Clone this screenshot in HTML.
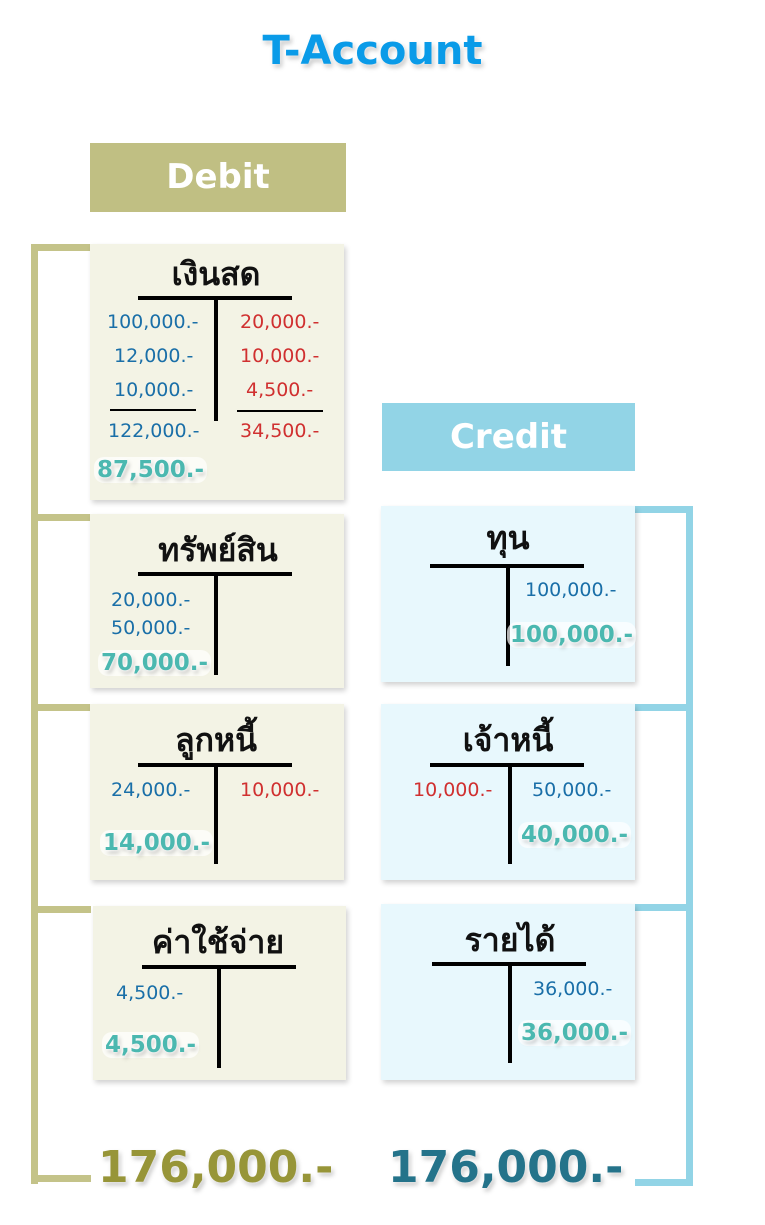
<!DOCTYPE html><html><head><meta charset="utf-8"><style>
body{margin:0;width:765px;height:1225px;background:#fff;position:relative;font-family:"DejaVu Sans","Liberation Sans",sans-serif;overflow:hidden}
div{position:absolute}
.l{background:#c4c389}.r{background:#92d4e6}
.c{background:#f3f3e5;box-shadow:2px 3px 5px rgba(0,0,0,.18)}
.cb{background:#e8f8fd;box-shadow:2px 3px 5px rgba(0,0,0,.18)}
.h{background:#000;height:4px}.v{background:#000;width:4px}
.t{font-size:32px;font-weight:bold;color:#111;text-align:center;width:200px;line-height:40px}
.b{color:#1a6fa8;font-size:19px;margin-top:-3px}.rd{color:#d03030;font-size:19px;margin-top:-3px}
.g{color:#4bb8b0;font-size:23px;font-weight:bold;text-shadow:0 0 3px #fff,0 0 4px #fff,2px 3px 4px rgba(0,0,0,.25);background:rgba(255,255,255,.7);border-radius:10px;padding:0 3px}
</style></head><body>
<div style="left:0;width:745px;top:28px;text-align:center;font-size:40px;font-weight:bold;color:#0a9be8;text-shadow:0 0 4px #fff,2px 3px 5px rgba(0,0,0,.25)">T-Account</div>
<div style="left:90px;top:143px;width:256px;height:69px;background:#c0bf83;color:#fff;font-size:34px;font-weight:bold;text-align:center;line-height:69px">Debit</div>
<div style="left:382px;top:403px;width:253px;height:68px;background:#92d4e6;color:#fff;font-size:34px;font-weight:bold;text-align:center;line-height:68px">Credit</div>
<div class="l" style="left:31px;top:244px;width:7px;height:940px"></div>
<div class="l" style="left:31px;top:244px;width:60px;height:7px"></div>
<div class="l" style="left:31px;top:514px;width:60px;height:7px"></div>
<div class="l" style="left:31px;top:704px;width:60px;height:7px"></div>
<div class="l" style="left:31px;top:906px;width:60px;height:7px"></div>
<div class="l" style="left:31px;top:1175px;width:60px;height:7px"></div>
<div class="r" style="left:686px;top:506px;width:7px;height:680px"></div>
<div class="r" style="left:635px;top:506px;width:58px;height:7px"></div>
<div class="r" style="left:635px;top:704px;width:58px;height:7px"></div>
<div class="r" style="left:635px;top:904px;width:58px;height:7px"></div>
<div class="r" style="left:635px;top:1179px;width:58px;height:7px"></div>
<div class="c" style="left:90px;top:244px;width:254px;height:256px"></div>
<div class="t" style="left:116px;top:254px">เงินสด</div>
<div class="h" style="left:138px;top:296px;width:154px"></div>
<div class="v" style="left:214px;top:296px;height:125px"></div>
<div class="b" style="left:107px;top:314px">100,000.-</div>
<div class="b" style="left:114px;top:348px">12,000.-</div>
<div class="b" style="left:114px;top:382px">10,000.-</div>
<div class="h" style="left:110px;top:409px;width:86px;height:2px"></div>
<div class="b" style="left:108px;top:423px">122,000.-</div>
<div class="rd" style="left:240px;top:314px">20,000.-</div>
<div class="rd" style="left:240px;top:348px">10,000.-</div>
<div class="rd" style="left:246px;top:382px">4,500.-</div>
<div class="h" style="left:237px;top:410px;width:86px;height:2px"></div>
<div class="rd" style="left:240px;top:423px">34,500.-</div>
<div class="g" style="left:94px;top:457px">87,500.-</div>
<div class="c" style="left:90px;top:514px;width:254px;height:174px"></div>
<div class="t" style="left:118px;top:530px">ทรัพย์สิน</div>
<div class="h" style="left:138px;top:572px;width:154px"></div>
<div class="v" style="left:214px;top:572px;height:103px"></div>
<div class="b" style="left:111px;top:592px">20,000.-</div>
<div class="b" style="left:111px;top:620px">50,000.-</div>
<div class="g" style="left:98px;top:650px">70,000.-</div>
<div class="c" style="left:90px;top:704px;width:254px;height:176px"></div>
<div class="t" style="left:116px;top:720px">ลูกหนี้</div>
<div class="h" style="left:138px;top:763px;width:154px"></div>
<div class="v" style="left:214px;top:763px;height:101px"></div>
<div class="b" style="left:111px;top:782px">24,000.-</div>
<div class="rd" style="left:240px;top:782px">10,000.-</div>
<div class="g" style="left:100px;top:830px">14,000.-</div>
<div class="c" style="left:93px;top:906px;width:253px;height:174px"></div>
<div class="t" style="left:118px;top:922px">ค่าใช้จ่าย</div>
<div class="h" style="left:142px;top:965px;width:154px"></div>
<div class="v" style="left:217px;top:965px;height:103px"></div>
<div class="b" style="left:116px;top:985px">4,500.-</div>
<div class="g" style="left:102px;top:1032px">4,500.-</div>
<div class="cb" style="left:381px;top:506px;width:254px;height:176px"></div>
<div class="t" style="left:408px;top:518px">ทุน</div>
<div class="h" style="left:430px;top:564px;width:154px"></div>
<div class="v" style="left:506px;top:564px;height:102px"></div>
<div class="b" style="left:525px;top:582px">100,000.-</div>
<div class="g" style="left:507px;top:622px">100,000.-</div>
<div class="cb" style="left:381px;top:704px;width:254px;height:176px"></div>
<div class="t" style="left:408px;top:720px">เจ้าหนี้</div>
<div class="h" style="left:430px;top:763px;width:154px"></div>
<div class="v" style="left:508px;top:763px;height:101px"></div>
<div class="rd" style="left:413px;top:782px">10,000.-</div>
<div class="b" style="left:532px;top:782px">50,000.-</div>
<div class="g" style="left:518px;top:822px">40,000.-</div>
<div class="cb" style="left:381px;top:904px;width:254px;height:176px"></div>
<div class="t" style="left:410px;top:920px">รายได้</div>
<div class="h" style="left:432px;top:962px;width:154px"></div>
<div class="v" style="left:508px;top:962px;height:101px"></div>
<div class="b" style="left:533px;top:981px">36,000.-</div>
<div class="g" style="left:518px;top:1020px">36,000.-</div>
<div style="left:98px;top:1142px;font-size:44px;font-weight:bold;color:#979538;text-shadow:0 0 4px #fff,2px 3px 5px rgba(0,0,0,.25)">176,000.-</div>
<div style="left:388px;top:1142px;font-size:44px;font-weight:bold;color:#24738a;text-shadow:0 0 4px #fff,2px 3px 5px rgba(0,0,0,.25)">176,000.-</div>
</body></html>
